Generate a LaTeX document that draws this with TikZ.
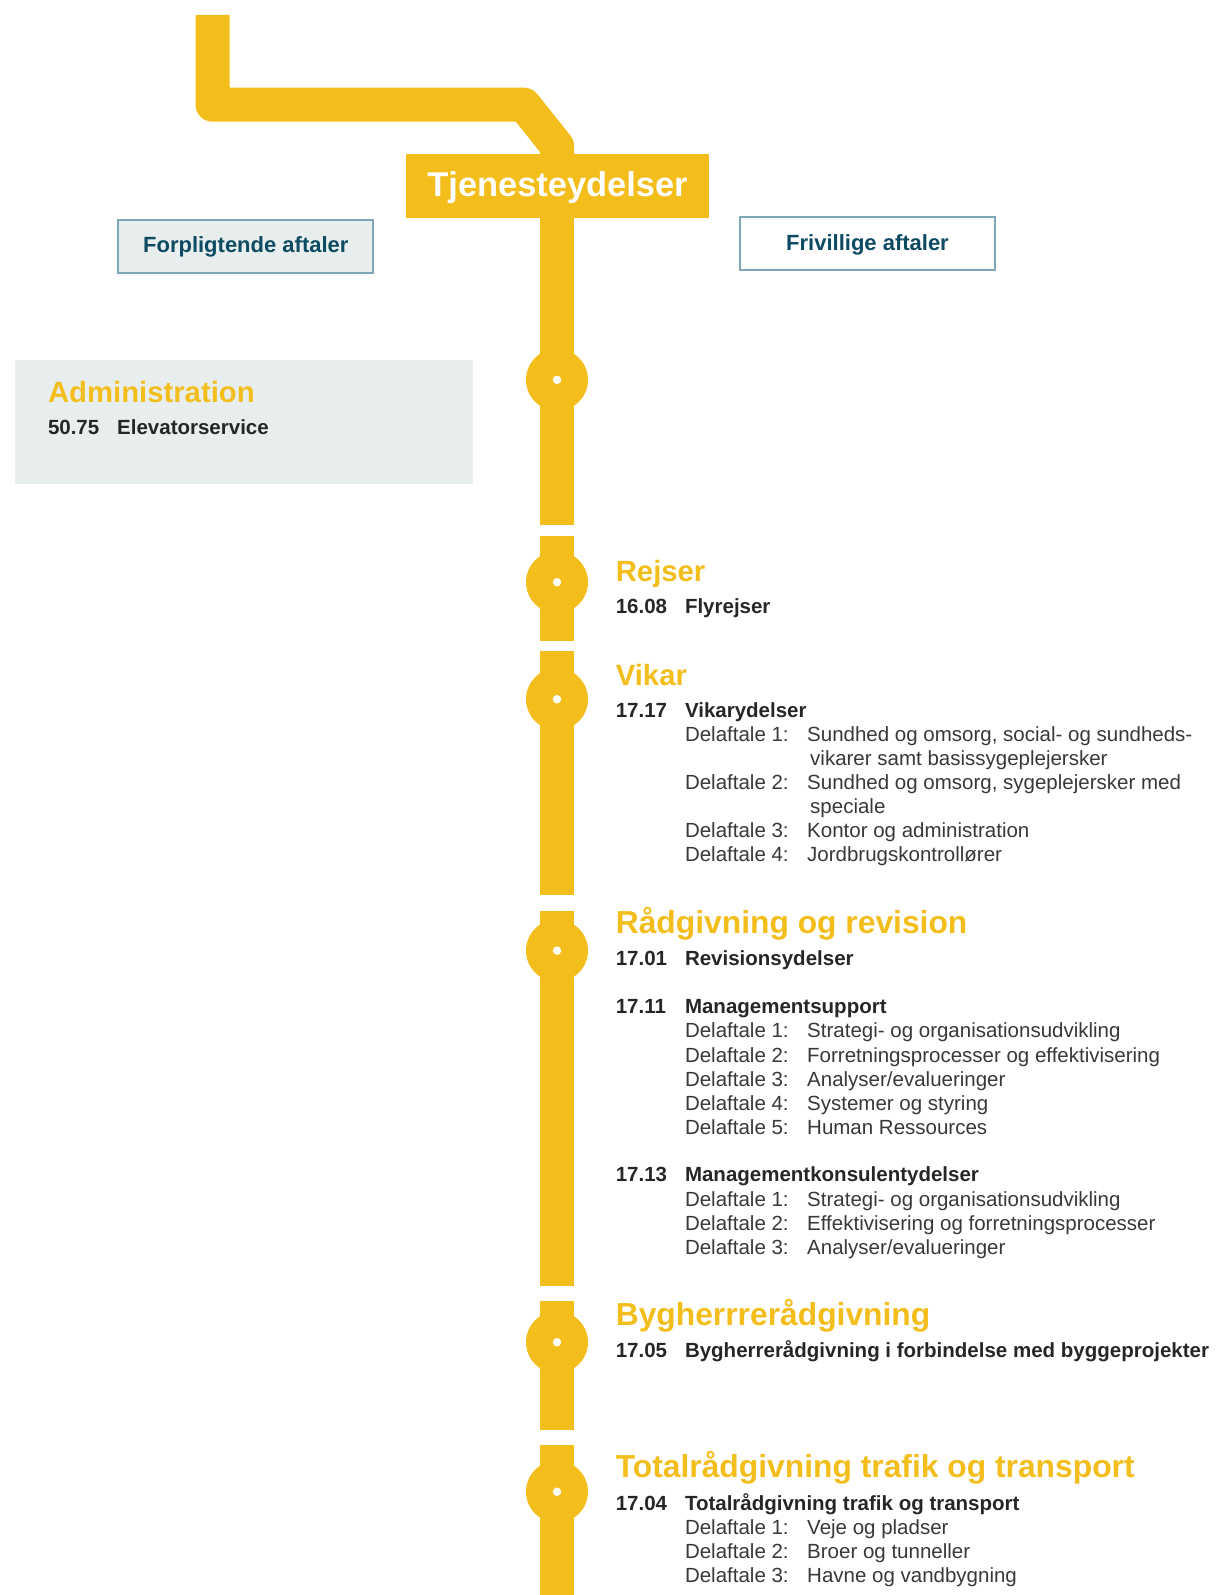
\documentclass[tikz,border=0pt]{standalone}
\usepackage{fontspec}
\setmainfont{Liberation Sans}
\definecolor{trackyellow}{HTML}{F3BE1B}
\definecolor{panelgray}{HTML}{E8EEEE}
\definecolor{boxline}{HTML}{7EA7B8}
\definecolor{boxtext}{HTML}{0D4B63}
\definecolor{bodytext}{HTML}{262626}
\definecolor{subtext}{HTML}{383838}

\begin{document}
\begin{tikzpicture}[x=1pt,y=-1pt,
	track/.style={trackyellow,line width=34pt},
	station/.style={circle,fill=trackyellow,minimum size=62pt,inner sep=0pt},
	hole/.style={circle,fill=white,minimum size=8.5pt,inner sep=0pt},
	agreement/.style={draw=boxline,line width=2pt,minimum width=255pt,minimum height=53pt,inner sep=0pt,text height=16pt,text depth=2.6pt,text=boxtext,font=\fontsize{22}{26}\selectfont\bfseries},
	heading/.style={anchor=base west,inner sep=0pt,text=trackyellow,font=\fontsize{29.3}{34}\selectfont\bfseries},
	bigheading/.style={heading,font=\fontsize{31.8}{36}\selectfont\bfseries},
	entry/.style={anchor=base west,inner sep=0pt,text=bodytext,font=\fontsize{20.5}{24}\selectfont\bfseries},
	subline/.style={anchor=base west,inner sep=0pt,text=subtext,font=\fontsize{20.5}{24}\selectfont}]
				\useasboundingbox (0,0) rectangle (1217,1595);

				\coordinate (top) at (212.5,15);
				\coordinate (bend) at (212.5,104.7);
				\coordinate (kink) at (524,104.7);
				\coordinate (drop) at (557,146);
				\coordinate (under) at (557,200);
				\draw[track,line join=round] (top) -- (bend) -- (kink) -- (drop) -- (under);

				\draw[track] (557,200) -- (557,524.5);
				\draw[track] (557,535.5) -- (557,640.5);
				\draw[track] (557,651) -- (557,895);
				\draw[track] (557,910.5) -- (557,1286);
				\draw[track] (557,1300.5) -- (557,1429.5);
				\draw[track] (557,1445) -- (557,1595);

				\node[station] (st1) at (557,379.8) {};
				\node[station] (st2) at (557,582.2) {};
				\node[station] (st3) at (557,699.2) {};
				\node[station] (st4) at (557,950.6) {};
				\node[station] (st5) at (557,1342.2) {};
				\node[station] (st6) at (557,1491.7) {};
				\node[hole] (h1) at (st1) {};
				\node[hole] (h2) at (st2) {};
				\node[hole] (h3) at (st3) {};
				\node[hole] (h4) at (st4) {};
				\node[hole] (h5) at (st5) {};
				\node[hole] (h6) at (st6) {};

				\node[fill=trackyellow,minimum width=303pt,minimum height=64pt,inner sep=0pt,text height=25pt,text depth=2.6pt,text=white,font=\fontsize{34.4}{40}\selectfont\bfseries] (title) at (557.5,185.5) {Tjenesteydelser};

				\node[agreement,fill=panelgray] (forpl) at (245.8,246) {Forpligtende aftaler};
				\node[agreement,fill=white] (friv) at (867.5,243.4) {Frivillige aftaler};

				\node[fill=panelgray,minimum width=458pt,minimum height=124pt,inner sep=0pt] (adminpanel) at (244,422) {};
				\node[heading] (admin) at (47.8,402) {Administration};
				\node[entry] (n5075) at ([yshift=-32.5pt]admin.base west) {50.75};
				\node[entry] (t5075) at ([xshift=69.2pt]n5075.base west) {Elevatorservice};

				\node[heading] (rejser) at (615.6,581.7) {Rejser};
				\node[entry] (n1608) at ([yshift=-31.6pt]rejser.base west) {16.08};
				\node[entry] (t1608) at ([xshift=69.2pt]n1608.base west) {Flyrejser};

				\node[heading] (vikar) at (615.6,685) {Vikar};
				\node[entry] (n1717) at ([yshift=-32.3pt]vikar.base west) {17.17};
				\node[entry] (t1717) at ([xshift=69.2pt]n1717.base west) {Vikarydelser};
				\node[subline] (d1717a) at ([yshift=-24.1pt]t1717.base west) {Delaftale 1:};
				\node[subline] (s1717a) at ([xshift=122.2pt]d1717a.base west) {Sundhed og omsorg, social- og sundheds-};
				\node[subline] (s1717a2) at ([xshift=3pt,yshift=-24.1pt]s1717a.base west) {vikarer samt basissygeplejersker};
				\node[subline] (d1717b) at ([yshift=-48.2pt]d1717a.base west) {Delaftale 2:};
				\node[subline] (s1717b) at ([xshift=122.2pt]d1717b.base west) {Sundhed og omsorg, sygeplejersker med};
				\node[subline] (s1717b2) at ([xshift=3pt,yshift=-24.1pt]s1717b.base west) {speciale};
				\node[subline] (d1717c) at ([yshift=-48.2pt]d1717b.base west) {Delaftale 3:};
				\node[subline] (s1717c) at ([xshift=122.2pt]d1717c.base west) {Kontor og administration};
				\node[subline] (d1717d) at ([yshift=-24.1pt]d1717c.base west) {Delaftale 4:};
				\node[subline] (s1717d) at ([xshift=122.2pt]d1717d.base west) {Jordbrugskontrollører};

				\node[bigheading] (raad) at (615.6,933.3) {Rådgivning og revision};
				\node[entry] (n1701) at ([yshift=-32.4pt]raad.base west) {17.01};
				\node[entry] (t1701) at ([xshift=69.2pt]n1701.base west) {Revisionsydelser};
				\node[entry] (n1711) at ([yshift=-48.1pt]n1701.base west) {17.11};
				\node[entry] (t1711) at ([xshift=69.2pt]n1711.base west) {Managementsupport};
				\node[subline] (d1711a) at ([yshift=-24.1pt]t1711.base west) {Delaftale 1:};
				\node[subline] (s1711a) at ([xshift=122.2pt]d1711a.base west) {Strategi- og organisationsudvikling};
				\node[subline] (d1711b) at ([yshift=-24.1pt]d1711a.base west) {Delaftale 2:};
				\node[subline] (s1711b) at ([xshift=122.2pt]d1711b.base west) {Forretningsprocesser og effektivisering};
				\node[subline] (d1711c) at ([yshift=-24.1pt]d1711b.base west) {Delaftale 3:};
				\node[subline] (s1711c) at ([xshift=122.2pt]d1711c.base west) {Analyser/evalueringer};
				\node[subline] (d1711d) at ([yshift=-24.1pt]d1711c.base west) {Delaftale 4:};
				\node[subline] (s1711d) at ([xshift=122.2pt]d1711d.base west) {Systemer og styring};
				\node[subline] (d1711e) at ([yshift=-24.1pt]d1711d.base west) {Delaftale 5:};
				\node[subline] (s1711e) at ([xshift=122.2pt]d1711e.base west) {Human Ressources};
				\node[entry] (n1713) at ([xshift=-69.2pt,yshift=-47.6pt]d1711e.base west) {17.13};
				\node[entry] (t1713) at ([xshift=69.2pt]n1713.base west) {Managementkonsulentydelser};
				\node[subline] (d1713a) at ([yshift=-24.1pt]t1713.base west) {Delaftale 1:};
				\node[subline] (s1713a) at ([xshift=122.2pt]d1713a.base west) {Strategi- og organisationsudvikling};
				\node[subline] (d1713b) at ([yshift=-24.1pt]d1713a.base west) {Delaftale 2:};
				\node[subline] (s1713b) at ([xshift=122.2pt]d1713b.base west) {Effektivisering og forretningsprocesser};
				\node[subline] (d1713c) at ([yshift=-24.1pt]d1713b.base west) {Delaftale 3:};
				\node[subline] (s1713c) at ([xshift=122.2pt]d1713c.base west) {Analyser/evalueringer};

				\node[bigheading] (bygh) at (615.6,1325.5) {Bygherrrerådgivning};
				\node[entry] (n1705) at ([yshift=-32.2pt]bygh.base west) {17.05};
				\node[entry] (t1705) at ([xshift=69.2pt]n1705.base west) {Bygherrerådgivning i forbindelse med byggeprojekter};

				\node[bigheading] (total) at (615.6,1477.5) {Totalrådgivning trafik og transport};
				\node[entry] (n1704) at ([yshift=-32.5pt]total.base west) {17.04};
				\node[entry] (t1704) at ([xshift=69.2pt]n1704.base west) {Totalrådgivning trafik og transport};
				\node[subline] (d1704a) at ([yshift=-24.1pt]t1704.base west) {Delaftale 1:};
				\node[subline] (s1704a) at ([xshift=122.2pt]d1704a.base west) {Veje og pladser};
				\node[subline] (d1704b) at ([yshift=-24.1pt]d1704a.base west) {Delaftale 2:};
				\node[subline] (s1704b) at ([xshift=122.2pt]d1704b.base west) {Broer og tunneller};
				\node[subline] (d1704c) at ([yshift=-24.1pt]d1704b.base west) {Delaftale 3:};
				\node[subline] (s1704c) at ([xshift=122.2pt]d1704c.base west) {Havne og vandbygning};
\end{tikzpicture}
\end{document}
